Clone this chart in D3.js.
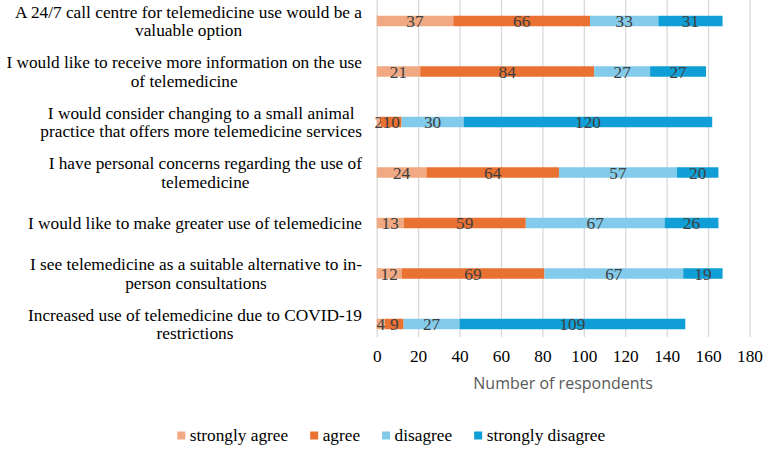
<!DOCTYPE html>
<html>
<head>
<meta charset="utf-8">
<script src="https://cdn.jsdelivr.net/npm/d3@7"></script>
<style>
  body { margin: 0; background: #fff; }
  svg { display: block; }
</style>
</head>
<body>
<svg id="chart" width="767" height="449"></svg>
<script>
// statements, top to bottom, as in the chart ("\n" = line break)
var categories = [
  'A 24/7 call centre for telemedicine use would be a\nvaluable option',
  'I would like to receive more information on the use\nof telemedicine',
  'I would consider changing to a small animal\npractice that offers more telemedicine services',
  'I have personal concerns regarding the use of\ntelemedicine',
  'I would like to make greater use of telemedicine',
  'I see telemedicine as a suitable alternative to in-\nperson consultations',
  'Increased use of telemedicine due to COVID-19\nrestrictions'
];
var seriesNames = ['strongly agree', 'agree', 'disagree', 'strongly disagree'];
var stronglyAgree    = [37, 21, 2, 24, 13, 12, 4];
var agree            = [66, 84, 10, 64, 59, 69, 9];
var disagree         = [33, 27, 30, 57, 67, 67, 27];
var stronglyDisagree = [31, 27, 120, 20, 26, 19, 109];
var xTicks = [0, 20, 40, 60, 80, 100, 120, 140, 160, 180];

var colors = ['#F1A983', '#E97132', '#83CBEB', '#0F9ED5'];
var serif = '"Liberation Serif", "Times New Roman", serif';
var fs = 17.3;

var svg = d3.select('#chart');

var plotLeft = 376.7, plotRight = 749.5, plotBottom = 337;
var barH = 10.5;

var x = d3.scaleLinear().domain([0, 180]).range([plotLeft, plotRight]);
var y = d3.scalePoint().domain(categories).range([21, 324]);

// gridlines + tick labels
var xAxis = svg.append('g')
  .attr('transform', 'translate(0,' + plotBottom + ')')
  .call(d3.axisBottom(x).tickValues(xTicks).tickSize(-plotBottom).tickPadding(13));
xAxis.select('.domain').remove();
xAxis.selectAll('.tick line').attr('stroke', '#D9D9D9').attr('stroke-width', 1.3);
xAxis.selectAll('.tick text')
  .attr('font-family', serif).attr('font-size', fs).attr('fill', '#000');

// stacked bars
var table = categories.map(function(c, i) {
  return { cat: c, 'strongly agree': stronglyAgree[i], 'agree': agree[i],
           'disagree': disagree[i], 'strongly disagree': stronglyDisagree[i] };
});
var stacked = d3.stack().keys(seriesNames)(table);

var layers = svg.selectAll('g.layer').data(stacked).enter().append('g')
  .attr('class', 'layer').attr('fill', function(d, i) { return colors[i]; });

layers.selectAll('rect').data(function(d) { return d; }).enter().append('rect')
  .attr('x', function(d) { return x(d[0]); })
  .attr('width', function(d) { return x(d[1]) - x(d[0]); })
  .attr('y', function(d) { return y(d.data.cat) - barH / 2; })
  .attr('height', barH);

// data labels
layers.selectAll('text').data(function(d) { return d; }).enter().append('text')
  .attr('x', function(d) { return (x(d[0]) + x(d[1])) / 2; })
  .attr('y', function(d) { return y(d.data.cat); })
  .attr('dy', '0.35em')
  .attr('text-anchor', 'middle')
  .attr('font-family', serif).attr('font-size', fs).attr('fill', '#404040')
  .text(function(d) { return d[1] - d[0]; });

// category labels: block right-aligned, lines centred inside the block
var labelRight = 362, lineH = 18.5;
categories.forEach(function(c) {
  var lines = c.split('\n');
  var g = svg.append('g');
  var texts = lines.map(function(l, j) {
    return g.append('text')
      .attr('y', y(c) + (j - (lines.length - 1) / 2) * lineH)
      .attr('dy', '0.35em')
      .attr('text-anchor', 'middle')
      .attr('font-family', serif).attr('font-size', fs).attr('fill', '#000')
      .text(l);
  });
  var w = d3.max(texts, function(t) { return t.node().getComputedTextLength(); });
  texts.forEach(function(t) { t.attr('x', labelRight - w / 2); });
});

// axis title
svg.append('text')
  .attr('x', (plotLeft + plotRight) / 2).attr('y', 383).attr('dy', '0.35em')
  .attr('text-anchor', 'middle')
  .attr('font-family', '"Open Sans", "Noto Sans", sans-serif').attr('font-size', 16)
  .attr('fill', '#595959')
  .text('Number of respondents');

// legend
var lx = 177.3;
seriesNames.forEach(function(s, i) {
  svg.append('rect').attr('x', lx).attr('y', 431.5).attr('width', 8).attr('height', 8)
    .attr('fill', colors[i]);
  var t = svg.append('text').attr('x', lx + 12.5).attr('y', 441)
    .attr('font-family', serif).attr('font-size', fs).attr('fill', '#000')
    .text(s);
  lx += 12.5 + t.node().getComputedTextLength() + 22;
});
</script>
</body>
</html>
